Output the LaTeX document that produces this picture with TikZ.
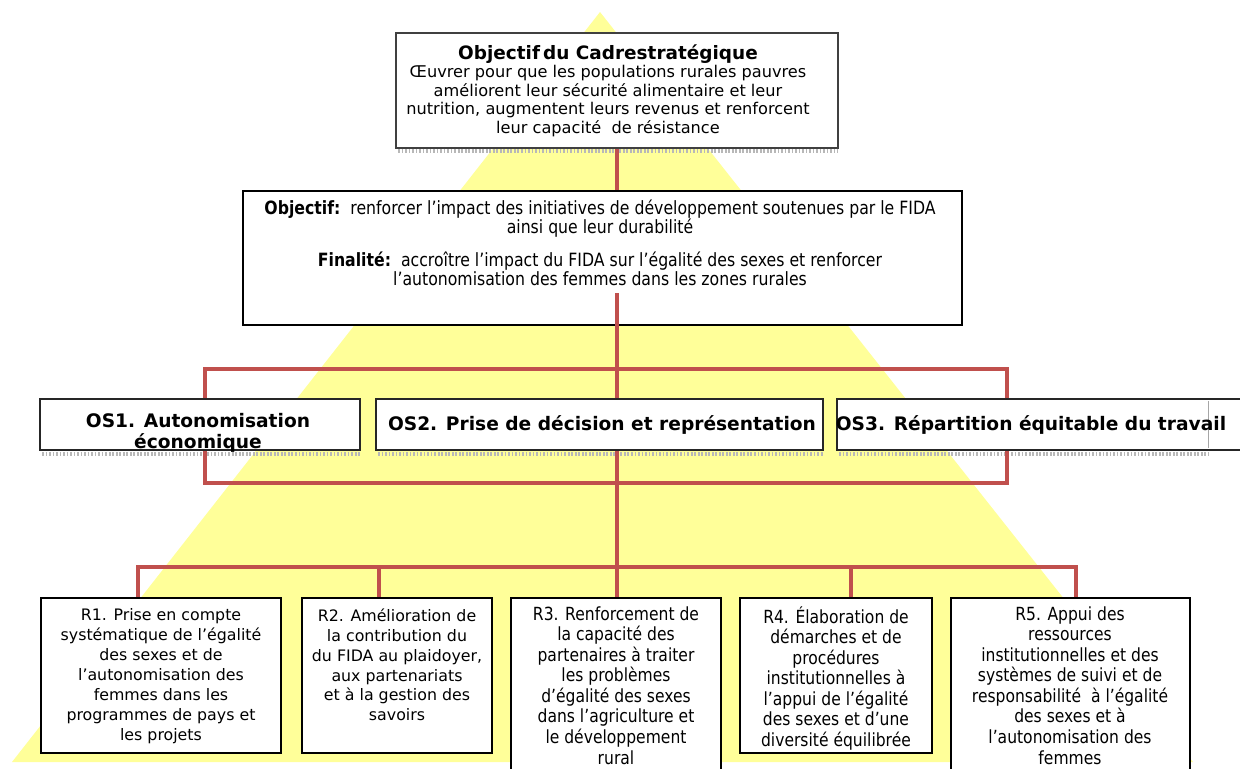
\documentclass[tikz,border=0pt]{standalone}
\usepackage{fontspec}
\setmainfont{DejaVu Sans}
\newfontfamily\tah[FakeStretch=0.86]{DejaVu Sans}
\usetikzlibrary{fit}
\definecolor{tri}{HTML}{FFFF99}
\definecolor{conn}{HTML}{C0504D}
\begin{document}
\begin{tikzpicture}[x=0.02cm,y=-0.02cm,
  box/.style={draw=black, line width=1.1pt, fill=white, inner sep=0pt},
  topbox/.style={draw=black!75, line width=1.1pt, fill=white, inner sep=0pt},
  osbox/.style={draw=black!85, line width=0.9pt, fill=white, inner sep=0pt},
  connector/.style={draw=conn, line width=2pt, line join=miter},
  shadow/.style={draw=black!28, line width=2.8pt, dash pattern=on 1pt off 1pt},
  txt/.style={align=center, inner sep=0pt},
  verd/.style={font=\fontsize{9}{11.3}\selectfont},
  tahs/.style={font=\tah\fontsize{10.3}{11.7}\selectfont},
  osfont/.style={font=\fontsize{10.6}{11.9}\selectfont\bfseries}]
\useasboundingbox (0,0) rectangle (1240,768);
\clip (0,0) rectangle (1240,768);
% yellow triangle
\fill[tri] (600,12) -- (1193,762) -- (12,762) -- cycle;

% shadows
\draw[shadow] (398,151) -- (838,151);
\draw[shadow] (42,454) -- (360,454);
\draw[shadow] (378,454) -- (823,454);
\draw[shadow] (839,454) -- (1208,454);

% top box
\node[topbox, fit={(396,33) (838,148)}] (top) {};
\node[txt, font=\fontsize{9.2}{10.5}\selectfont] (topT) at (608,90.5)
  {{\fontsize{10.5}{11}\selectfont\bfseries Objectif\,du Cadrestratégique}\\
   Œuvrer pour que les populations rurales pauvres\\
   améliorent leur sécurité alimentaire et leur\\
   nutrition, augmentent leurs revenus et renforcent\\
   leur capacité \ de résistance};

% objective box
\node[box, line width=1.3pt, fit={(243,191) (962,325)}] (obj) {};
\node[txt, font=\tah\fontsize{10.4}{10.9}\selectfont, anchor=north] (objT) at (600,199.5)
  {\textbf{Objectif:}\ \ renforcer l’impact des initiatives de développement soutenues par le FIDA\\
   ainsi que leur durabilité\\[7.8pt]
   \textbf{Finalité:}\ \ accroître l’impact du FIDA sur l’égalité des sexes et renforcer\\
   l’autonomisation des femmes dans les zones rurales};

% OS boxes
\node[osbox, fit={(40,399) (360,450)}] (os1) {};
\node[txt, osfont] (os1T) at (198,432.5) {OS1. Autonomisation\\économique};
\node[osbox, fit={(376,399) (823,450)}] (os2) {};
\node[txt, osfont] (os2T) at (602,425) {OS2. Prise de décision et représentation};
\node[osbox, fit={(837,399) (1250,450)}] (os3) {};
\draw[black!35, line width=0.5pt] (1208,401) -- (1208,448);
\node[txt, osfont] (os3T) at (1031,425) {OS3. Répartition équitable du travail};

% R boxes
\node[box, fit={(41,598) (281,753)}] (r1) {};
\node[txt, verd, anchor=north] (r1T) at (161,608.5)
  {R1. Prise en compte\\systématique de l’égalité\\des sexes et de\\l’autonomisation des\\femmes dans les\\programmes de pays et\\les projets};
\node[box, fit={(302,598) (492,753)}] (r2) {};
\node[txt, verd, anchor=north] (r2T) at (397,608.5)
  {R2. Amélioration de\\la contribution du\\du FIDA au plaidoyer,\\aux partenariats\\et à la gestion des\\savoirs};
\node[box, fit={(511,598) (721,790)}] (r3) {};
\node[txt, tahs, anchor=north] (r3T) at (616,606)
  {R3. Renforcement de\\la capacité des\\partenaires à traiter\\les problèmes\\d’égalité des sexes\\dans l’agriculture et\\le développement\\rural};
\node[box, fit={(740,598) (932,753)}] (r4) {};
\node[txt, tahs, anchor=north] (r4T) at (836,606)
  {R4. Élaboration de\\démarches et de\\procédures\\institutionnelles à\\l’appui de l’égalité\\des sexes et d’une\\diversité équilibrée};
\node[box, fit={(951,598) (1190,790)}] (r5) {};
\node[txt, tahs, anchor=north] (r5T) at (1070,606)
  {R5. Appui des\\ressources\\institutionnelles et des\\systèmes de suivi et de\\responsabilité \ à l’égalité\\des sexes et à\\l’autonomisation des\\femmes};

% connector coordinates
\coordinate (objin) at (617,293);
\coordinate (tl) at (205,369);
\coordinate (tm) at (617,369);
\coordinate (tr) at (1007,369);
\coordinate (bl) at (205,483);
\coordinate (bm) at (617,483);
\coordinate (br) at (1007,483);
\coordinate (rl) at (138,567);
\coordinate (rm) at (617,567);
\coordinate (rr) at (1076,567);
\coordinate (x2) at (379,567);
\coordinate (x4) at (851,567);

% connectors
\draw[connector] (tm |- top.south) -- (tm |- obj.north);
\draw[connector] (objin) -- (tm);
\draw[connector] (tl |- os1.north) -- (tl) -- (tr) -- (tr |- os3.north);
\draw[connector] (tm) -- (tm |- os2.north);
\draw[connector] (bl |- os1.south) -- (bl) -- (br) -- (br |- os3.south);
\draw[connector] (bm |- os2.south) -- (rm);
\draw[connector] (rl |- r1.north) -- (rl) -- (rr) -- (rr |- r5.north);
\draw[connector] (x2) -- (x2 |- r2.north);
\draw[connector] (rm) -- (rm |- r3.north);
\draw[connector] (x4) -- (x4 |- r4.north);
\end{tikzpicture}
\end{document}
